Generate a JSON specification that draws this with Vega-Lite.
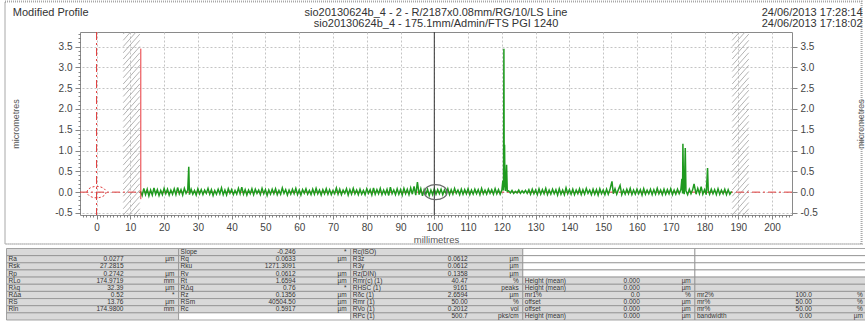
{
  "$schema": "https://vega.github.io/schema/vega-lite/v6.json",
  "width": 712,
  "height": 183,
  "autosize": {"type": "none"},
  "padding": {"left": 80, "top": 32, "right": 73, "bottom": 109},
  "background": "white",
  "config": {
    "font": "Liberation Sans",
    "view": {"stroke": "#8a8a8a", "strokeWidth": 1},
    "axis": {"labelFont": "Liberation Sans", "titleFont": "Liberation Sans"}
  },
  "datasets": {
    "one": [{}],
    "profile": [
      {"x":13.0,"y":0.02},{"x":13.5,"y":-0.08},{"x":14.0,"y":0.09},{"x":14.5,"y":-0.06},{"x":15.0,"y":0.07},{"x":15.5,"y":-0.09},{"x":16.0,"y":0.05},{"x":16.5,"y":-0.07},{"x":17.0,"y":0.10},{"x":17.5,"y":-0.05},
      {"x":18.0,"y":0.06},{"x":18.5,"y":-0.08},{"x":19.0,"y":0.04},{"x":19.5,"y":-0.06},{"x":20.0,"y":0.09},{"x":20.5,"y":-0.04},{"x":21.0,"y":0.07},{"x":21.5,"y":-0.07},{"x":22.0,"y":0.05},{"x":22.5,"y":-0.05},
      {"x":23.0,"y":0.08},{"x":23.5,"y":-0.06},{"x":24.0,"y":0.11},{"x":24.5,"y":-0.04},{"x":25.0,"y":0.06},{"x":25.5,"y":-0.07},{"x":26.0,"y":0.09},{"x":26.5,"y":-0.03},{"x":27.0,"y":0.05},{"x":27.3,"y":0.61},{"x":27.5,"y":-0.06},
      {"x":28.0,"y":0.07},{"x":28.5,"y":-0.05},{"x":29.0,"y":0.04},{"x":29.5,"y":-0.07},{"x":30.0,"y":0.08},{"x":30.5,"y":-0.04},{"x":31.0,"y":0.06},{"x":31.5,"y":-0.06},{"x":32.0,"y":0.05},{"x":32.5,"y":-0.03},
      {"x":33.0,"y":0.09},{"x":33.5,"y":-0.05},{"x":34.0,"y":0.06},{"x":34.5,"y":-0.08},{"x":35.0,"y":0.04},{"x":35.5,"y":-0.05},{"x":36.0,"y":0.07},{"x":36.5,"y":-0.04},{"x":37.0,"y":0.10},{"x":37.5,"y":-0.06},
      {"x":38.0,"y":0.05},{"x":38.5,"y":-0.07},{"x":39.0,"y":0.08},{"x":39.5,"y":-0.03},{"x":40.0,"y":0.06},{"x":40.5,"y":-0.06},{"x":41.0,"y":0.04},{"x":41.5,"y":-0.05},{"x":42.0,"y":0.09},{"x":42.5,"y":-0.04},
      {"x":43.0,"y":0.12},{"x":43.5,"y":-0.05},{"x":44.0,"y":0.06},{"x":44.5,"y":-0.07},{"x":45.0,"y":0.05},{"x":45.5,"y":-0.04},{"x":46.0,"y":0.08},{"x":46.5,"y":-0.06},{"x":47.0,"y":0.07},{"x":47.5,"y":-0.03},
      {"x":48.0,"y":0.05},{"x":48.5,"y":-0.06},{"x":49.0,"y":0.09},{"x":49.5,"y":-0.04},{"x":50.0,"y":0.06},{"x":50.5,"y":-0.08},{"x":51.0,"y":0.05},{"x":51.5,"y":-0.05},{"x":52.0,"y":0.07},{"x":52.5,"y":-0.04},
      {"x":53.0,"y":0.08},{"x":53.5,"y":-0.06},{"x":54.0,"y":0.04},{"x":54.5,"y":-0.05},{"x":55.0,"y":0.10},{"x":55.5,"y":-0.03},{"x":56.0,"y":0.06},{"x":56.5,"y":-0.07},{"x":57.0,"y":0.05},{"x":57.5,"y":-0.05},
      {"x":58.0,"y":0.07},{"x":58.5,"y":-0.04},{"x":59.0,"y":0.09},{"x":59.5,"y":-0.06},{"x":60.0,"y":0.05},{"x":60.5,"y":-0.07},{"x":61.0,"y":0.06},{"x":61.5,"y":-0.03},{"x":62.0,"y":0.08},{"x":62.5,"y":-0.05},
      {"x":63.0,"y":0.04},{"x":63.5,"y":-0.06},{"x":64.0,"y":0.07},{"x":64.5,"y":-0.05},{"x":65.0,"y":0.09},{"x":65.5,"y":-0.04},{"x":66.0,"y":0.05},{"x":66.5,"y":-0.07},{"x":67.0,"y":0.06},{"x":67.5,"y":-0.04},
      {"x":68.0,"y":0.08},{"x":68.5,"y":-0.05},{"x":69.0,"y":0.06},{"x":69.5,"y":-0.06},{"x":70.0,"y":0.04},{"x":70.5,"y":-0.04},{"x":71.0,"y":0.10},{"x":71.5,"y":-0.05},{"x":72.0,"y":0.07},{"x":72.5,"y":-0.06},
      {"x":73.0,"y":0.05},{"x":73.5,"y":-0.03},{"x":74.0,"y":0.08},{"x":74.5,"y":-0.07},{"x":75.0,"y":0.06},{"x":75.5,"y":-0.05},{"x":76.0,"y":0.09},{"x":76.5,"y":-0.04},{"x":77.0,"y":0.05},{"x":77.5,"y":-0.06},
      {"x":78.0,"y":0.07},{"x":78.5,"y":-0.05},{"x":79.0,"y":0.04},{"x":79.5,"y":-0.06},{"x":80.0,"y":0.08},{"x":80.5,"y":-0.03},{"x":81.0,"y":0.06},{"x":81.5,"y":-0.07},{"x":82.0,"y":0.10},{"x":82.5,"y":-0.05},
      {"x":83.0,"y":0.06},{"x":83.5,"y":-0.04},{"x":84.0,"y":0.09},{"x":84.5,"y":-0.06},{"x":85.0,"y":0.05},{"x":85.5,"y":-0.05},{"x":86.0,"y":0.07},{"x":86.5,"y":-0.08},{"x":87.0,"y":0.12},{"x":87.5,"y":-0.04},
      {"x":88.0,"y":0.05},{"x":88.5,"y":-0.06},{"x":89.0,"y":0.08},{"x":89.5,"y":-0.05},{"x":90.0,"y":0.06},{"x":90.5,"y":-0.07},{"x":91.0,"y":0.09},{"x":91.5,"y":-0.04},{"x":92.0,"y":0.07},{"x":92.5,"y":-0.06},
      {"x":93.0,"y":0.10},{"x":93.5,"y":-0.05},{"x":94.0,"y":0.14},{"x":94.5,"y":-0.07},{"x":95.0,"y":0.24},{"x":95.5,"y":-0.06},{"x":96.0,"y":0.08},{"x":96.5,"y":-0.09},{"x":97.0,"y":0.06},{"x":97.5,"y":-0.05},
      {"x":98.0,"y":0.07},{"x":98.5,"y":-0.08},{"x":99.0,"y":0.05},{"x":99.5,"y":-0.06},{"x":100.0,"y":0.08},{"x":100.5,"y":-0.05},{"x":101.0,"y":0.06},{"x":101.5,"y":-0.04},{"x":102.0,"y":0.07},{"x":102.5,"y":-0.06},
      {"x":103.0,"y":0.05},{"x":103.5,"y":-0.04},{"x":104.0,"y":0.08},{"x":104.5,"y":-0.06},{"x":105.0,"y":0.06},{"x":105.5,"y":-0.05},{"x":106.0,"y":0.09},{"x":106.5,"y":-0.03},{"x":107.0,"y":0.05},{"x":107.5,"y":-0.06},
      {"x":108.0,"y":0.07},{"x":108.5,"y":-0.05},{"x":109.0,"y":0.06},{"x":109.5,"y":-0.04},{"x":110.0,"y":0.08},{"x":110.5,"y":-0.06},{"x":111.0,"y":0.05},{"x":111.5,"y":-0.05},{"x":112.0,"y":0.07},{"x":112.5,"y":-0.04},
      {"x":113.0,"y":0.06},{"x":113.5,"y":-0.06},{"x":114.0,"y":0.09},{"x":114.5,"y":-0.04},{"x":115.0,"y":0.05},{"x":115.5,"y":-0.05},{"x":116.0,"y":0.07},{"x":116.5,"y":-0.03},{"x":117.0,"y":0.06},{"x":117.5,"y":-0.05},
      {"x":118.0,"y":0.08},{"x":118.5,"y":-0.04},{"x":119.0,"y":0.06},{"x":119.5,"y":-0.05},{"x":120.0,"y":0.05},{"x":120.3,"y":0.28},{"x":120.5,"y":0.04},{"x":120.6,"y":3.45},{"x":120.7,"y":0.12},{"x":120.8,"y":1.14},{"x":120.9,"y":0.22},{"x":121.1,"y":0.03},{"x":121.4,"y":0.66},{"x":121.6,"y":0.02},
      {"x":122.0,"y":0.03},{"x":122.5,"y":-0.02},{"x":123.0,"y":0.04},{"x":123.5,"y":-0.03},{"x":124.0,"y":0.02},{"x":124.5,"y":-0.02},{"x":125.0,"y":0.05},{"x":125.5,"y":-0.03},{"x":126.0,"y":0.03},{"x":126.5,"y":-0.02},
      {"x":127.0,"y":0.04},{"x":127.5,"y":-0.03},{"x":128.0,"y":0.06},{"x":128.5,"y":-0.05},{"x":129.0,"y":0.07},{"x":129.5,"y":-0.04},{"x":130.0,"y":0.05},{"x":130.5,"y":-0.06},{"x":131.0,"y":0.08},{"x":131.5,"y":-0.05},
      {"x":132.0,"y":0.06},{"x":132.5,"y":-0.04},{"x":133.0,"y":0.09},{"x":133.5,"y":-0.06},{"x":134.0,"y":0.05},{"x":134.5,"y":-0.05},{"x":135.0,"y":0.07},{"x":135.5,"y":-0.04},{"x":136.0,"y":0.06},{"x":136.5,"y":-0.07},
      {"x":137.0,"y":0.08},{"x":137.5,"y":-0.05},{"x":138.0,"y":0.05},{"x":138.5,"y":-0.06},{"x":139.0,"y":0.10},{"x":139.5,"y":-0.04},{"x":140.0,"y":0.06},{"x":140.5,"y":-0.05},{"x":141.0,"y":0.07},{"x":141.5,"y":-0.06},
      {"x":142.0,"y":0.05},{"x":142.5,"y":-0.04},{"x":143.0,"y":0.08},{"x":143.5,"y":-0.06},{"x":144.0,"y":0.06},{"x":144.5,"y":-0.05},{"x":145.0,"y":0.09},{"x":145.5,"y":-0.03},{"x":146.0,"y":0.05},{"x":146.5,"y":-0.06},
      {"x":147.0,"y":0.07},{"x":147.5,"y":-0.05},{"x":148.0,"y":0.06},{"x":148.5,"y":-0.07},{"x":149.0,"y":0.08},{"x":149.5,"y":-0.04},{"x":150.0,"y":0.05},{"x":150.5,"y":-0.06},{"x":151.0,"y":0.07},{"x":151.5,"y":-0.05},
      {"x":152.0,"y":0.06},{"x":152.6,"y":0.26},{"x":153.0,"y":-0.04},{"x":153.5,"y":0.08},{"x":154.0,"y":-0.05},{"x":154.5,"y":0.06},{"x":155.0,"y":0.16},{"x":155.5,"y":-0.06},{"x":156.0,"y":0.05},{"x":156.5,"y":-0.05},
      {"x":157.0,"y":0.07},{"x":157.5,"y":-0.04},{"x":158.0,"y":0.09},{"x":158.5,"y":-0.06},{"x":159.0,"y":0.05},{"x":159.5,"y":-0.05},{"x":160.0,"y":0.07},{"x":160.5,"y":-0.04},{"x":161.0,"y":0.06},{"x":161.5,"y":-0.07},
      {"x":162.0,"y":0.08},{"x":162.5,"y":-0.05},{"x":163.0,"y":0.05},{"x":163.5,"y":-0.04},{"x":164.0,"y":0.07},{"x":164.5,"y":-0.06},{"x":165.0,"y":0.06},{"x":165.5,"y":-0.05},{"x":166.0,"y":0.09},{"x":166.5,"y":-0.04},
      {"x":167.0,"y":0.05},{"x":167.5,"y":-0.06},{"x":168.0,"y":0.07},{"x":168.5,"y":-0.05},{"x":169.0,"y":0.06},{"x":169.5,"y":-0.04},{"x":170.0,"y":0.08},{"x":170.5,"y":-0.06},{"x":171.0,"y":0.05},{"x":171.5,"y":-0.05},
      {"x":172.0,"y":0.07},{"x":172.5,"y":-0.04},{"x":173.0,"y":0.06},{"x":173.3,"y":0.32},{"x":173.5,"y":-0.03},{"x":173.6,"y":1.16},{"x":173.8,"y":0.04},{"x":174.0,"y":-0.05},{"x":174.3,"y":1.06},{"x":174.5,"y":0.03},
      {"x":175.0,"y":-0.06},{"x":175.5,"y":0.07},{"x":176.0,"y":-0.04},{"x":176.5,"y":0.06},{"x":176.9,"y":0.2},{"x":177.5,"y":-0.05},{"x":178.0,"y":0.09},{"x":178.5,"y":-0.04},{"x":179.0,"y":0.13},{"x":179.5,"y":-0.05},
      {"x":180.0,"y":0.06},{"x":180.5,"y":-0.06},{"x":180.9,"y":0.58},{"x":181.1,"y":0.04},{"x":181.5,"y":-0.05},{"x":182.0,"y":0.07},{"x":182.5,"y":-0.04},{"x":183.0,"y":0.06},{"x":183.5,"y":-0.06},{"x":184.0,"y":0.08},
      {"x":184.5,"y":-0.05},{"x":185.0,"y":0.05},{"x":185.5,"y":-0.04},{"x":186.0,"y":0.07},{"x":186.5,"y":-0.06},{"x":187.0,"y":0.06},{"x":187.5,"y":-0.05},{"x":188.0,"y":0.02}
    ],
    "hatch": [
      {"y":-1.0,"y2":-0.55},{"y":-0.85,"y2":-0.4},{"y":-0.7,"y2":-0.25},{"y":-0.55,"y2":-0.1},{"y":-0.4,"y2":0.05},{"y":-0.25,"y2":0.2},{"y":-0.1,"y2":0.35},{"y":0.05,"y2":0.5},{"y":0.2,"y2":0.65},{"y":0.35,"y2":0.8},{"y":0.5,"y2":0.95},
      {"y":0.65,"y2":1.1},{"y":0.8,"y2":1.25},{"y":0.95,"y2":1.4},{"y":1.1,"y2":1.55},{"y":1.25,"y2":1.7},{"y":1.4,"y2":1.85},{"y":1.55,"y2":2.0},{"y":1.7,"y2":2.15},{"y":1.85,"y2":2.3},{"y":2.0,"y2":2.45},{"y":2.15,"y2":2.6},
      {"y":2.3,"y2":2.75},{"y":2.45,"y2":2.9},{"y":2.6,"y2":3.05},{"y":2.75,"y2":3.2},{"y":2.9,"y2":3.35},{"y":3.05,"y2":3.5},{"y":3.2,"y2":3.65},{"y":3.35,"y2":3.8},{"y":3.5,"y2":3.95},{"y":3.65,"y2":4.1},{"y":3.8,"y2":4.25}
    ],
    "table": [
      {"r":0,"b":"A","l":"","v":"","u":"","k":"param"},
      {"r":0,"b":"B","l":"Slope","v":"-0.246","u":"*","k":"param"},
      {"r":0,"b":"C","l":"Rc(ISO)","v":"","u":"","k":"param"},
      {"r":0,"b":"D","l":"","v":"","u":"","k":"blank"},
      {"r":0,"b":"E","l":"","v":"","u":"","k":"blank"},
      {"r":1,"b":"A","l":"Ra","v":"0.0277","u":"µm","k":"param"},
      {"r":1,"b":"B","l":"Rq","v":"0.0633","u":"µm","k":"param"},
      {"r":1,"b":"C","l":"R3z","v":"0.0612","u":"µm","k":"param"},
      {"r":1,"b":"D","l":"","v":"","u":"","k":"blank"},
      {"r":1,"b":"E","l":"","v":"","u":"","k":"blank"},
      {"r":2,"b":"A","l":"Rsk","v":"27.2815","u":"","k":"param"},
      {"r":2,"b":"B","l":"Rku","v":"1271.3091","u":"","k":"param"},
      {"r":2,"b":"C","l":"R3y","v":"0.0612","u":"µm","k":"param"},
      {"r":2,"b":"D","l":"","v":"","u":"","k":"blank"},
      {"r":2,"b":"E","l":"","v":"","u":"","k":"blank"},
      {"r":3,"b":"A","l":"Rp","v":"0.2742","u":"µm","k":"param"},
      {"r":3,"b":"B","l":"Rv","v":"0.0612","u":"µm","k":"param"},
      {"r":3,"b":"C","l":"Rz(DIN)","v":"0.1358","u":"µm","k":"param"},
      {"r":3,"b":"D","l":"","v":"","u":"","k":"blank"},
      {"r":3,"b":"E","l":"","v":"","u":"","k":"blank"},
      {"r":4,"b":"A","l":"RLo","v":"174.9719","u":"mm","k":"param"},
      {"r":4,"b":"B","l":"Rt","v":"1.6594","u":"µm","k":"param"},
      {"r":4,"b":"C","l":"Rmr(c) (1)","v":"40.47","u":"%","k":"param"},
      {"r":4,"b":"D","l":"Height (mean)","v":"0.000","u":"µm","k":"param"},
      {"r":4,"b":"E","l":"","v":"","u":"","k":"param"},
      {"r":5,"b":"A","l":"Rλq","v":"32.39","u":"µm","k":"param"},
      {"r":5,"b":"B","l":"RΔq","v":"0.76","u":"*","k":"param"},
      {"r":5,"b":"C","l":"RHSC (1)","v":"9161","u":"peaks","k":"param"},
      {"r":5,"b":"D","l":"Height (mean)","v":"0.000","u":"µm","k":"param"},
      {"r":5,"b":"E","l":"","v":"","u":"","k":"param"},
      {"r":6,"b":"A","l":"RΔa","v":"0.52","u":"*","k":"param"},
      {"r":6,"b":"B","l":"Rz","v":"0.1356","u":"µm","k":"param"},
      {"r":6,"b":"C","l":"Rδc (1)","v":"2.6594","u":"µm","k":"param"},
      {"r":6,"b":"D","l":"mr1%","v":"0.0","u":"%","k":"param"},
      {"r":6,"b":"E","l":"mr2%","v":"100.0","u":"%","k":"param"},
      {"r":7,"b":"A","l":"RS","v":"13.76","u":"µm","k":"param"},
      {"r":7,"b":"B","l":"RSm","v":"40504.50","u":"µm","k":"param"},
      {"r":7,"b":"C","l":"Rmr (1)","v":"50.00","u":"%","k":"param"},
      {"r":7,"b":"D","l":"offset","v":"0.000","u":"µm","k":"param"},
      {"r":7,"b":"E","l":"mr%","v":"50.00","u":"%","k":"param"},
      {"r":8,"b":"A","l":"Rln","v":"174.9800","u":"mm","k":"param"},
      {"r":8,"b":"B","l":"Rc","v":"0.5917","u":"µm","k":"param"},
      {"r":8,"b":"C","l":"RVo (1)","v":"0.2012","u":"vol","k":"param"},
      {"r":8,"b":"D","l":"offset","v":"0.000","u":"µm","k":"param"},
      {"r":8,"b":"E","l":"mr%","v":"50.00","u":"%","k":"param"},
      {"r":9,"b":"A","l":"","v":"","u":"","k":"param"},
      {"r":9,"b":"B","l":"","v":"","u":"","k":"blank"},
      {"r":9,"b":"C","l":"RPc (1)","v":"500.7","u":"pks/cm","k":"param"},
      {"r":9,"b":"D","l":"Height (mean)","v":"0.000","u":"µm","k":"param"},
      {"r":9,"b":"E","l":"bandwidth","v":"0.00","u":"µm","k":"param"}
    ]
  },
  "layer": [
    {
      "layer": [
        {
          "data": {"name": "one"},
          "mark": {"type": "rect", "filled": false, "stroke": "#a8a8a8", "strokeWidth": 2, "strokeDash": [1, 1], "clip": false},
          "encoding": {
            "x": {"datum": -27.1, "axis": null},
            "x2": {"datum": 226.5},
            "y": {"datum": 4.583, "axis": null},
            "y2": {"datum": -1.246}
          }
        },
        {
          "data": {"name": "hatch"},
          "mark": {"type": "rule", "color": "#a0a0a0", "strokeWidth": 0.8, "clip": true},
          "encoding": {
            "x": {"datum": 7.9, "axis": null},
            "x2": {"datum": 12.8},
            "y": {"field": "y", "type": "quantitative", "axis": null},
            "y2": {"field": "y2"}
          }
        },
        {
          "data": {"name": "hatch"},
          "mark": {"type": "rule", "color": "#a0a0a0", "strokeWidth": 0.8, "clip": true},
          "encoding": {
            "x": {"datum": 188.2, "axis": null},
            "x2": {"datum": 193.1},
            "y": {"field": "y", "type": "quantitative", "axis": null},
            "y2": {"field": "y2"}
          }
        },
        {
          "data": {"name": "one"},
          "mark": {"type": "rule", "color": "#e03a3a", "strokeWidth": 1, "strokeDash": [8, 3, 2, 3]},
          "encoding": {
            "y": {
              "datum": 0,
              "axis": {
                "orient": "right",
                "tickCount": 9,
                "labelExpr": "replace(format(datum.value, '.1f'), '\u2212', '-')",
                "labelOverlap": false,
                "labelFlush": false,
                "labelBound": false,
                "tickSize": 5,
                "tickColor": "#666666",
                "tickWidth": 0.8,
                "domain": false,
                "grid": true,
                "gridColor": "#c4c4c4",
                "gridDash": [2, 2],
                "labelFontSize": 10,
                "labelColor": "#444444",
                "labelPadding": 3,
                "title": "micrometres",
                "titleFontSize": 9,
                "titleFontWeight": "normal",
                "titleColor": "#555555",
                "titleAngle": 270,
                "titleX": 68,
                "titleY": 91.5,
                "titleBaseline": "middle",
                "titleAlign": "center"
              }
            }
          }
        },
        {
          "data": {"name": "one"},
          "mark": {"type": "rule", "color": "#e03a3a", "strokeWidth": 1, "strokeDash": [8, 3, 2, 3]},
          "encoding": {
            "x": {
              "datum": 0,
              "axis": {
                "orient": "top",
                "tickCount": 21,
                "grid": true,
                "gridColor": "#c4c4c4",
                "gridDash": [2, 2],
                "labels": false,
                "ticks": false,
                "domain": false,
                "title": null,
                "minExtent": 0,
                "maxExtent": 0
              }
            }
          }
        },
        {
          "data": {"name": "profile"},
          "mark": {"type": "line", "color": "#1f9a1f", "strokeWidth": 1.5},
          "encoding": {
            "x": {
              "field": "x",
              "type": "quantitative",
              "scale": {"domain": [-4.9, 205.9], "nice": false, "zero": false},
              "axis": {
                "orient": "bottom",
                "tickCount": 211,
                "labelExpr": "datum.value % 10 === 0 ? format(datum.value, 'd') : ''",
                "labelOverlap": false,
                "labelFlush": false,
                "labelBound": false,
                "tickSize": {"condition": {"test": "datum.value % 10 === 0", "value": 4}, "value": 2},
                "tickColor": "#666666",
                "tickWidth": 0.8,
                "domain": false,
                "grid": false,
                "labelFontSize": 10,
                "labelColor": "#444444",
                "labelPadding": 3,
                "title": "millimetres",
                "titleFontSize": 9.5,
                "titleFontWeight": "normal",
                "titleColor": "#555555",
                "titlePadding": 2
              }
            },
            "y": {
              "field": "y",
              "type": "quantitative",
              "scale": {"domain": [-0.55, 3.85], "nice": false, "zero": false},
              "axis": {
                "orient": "left",
                "tickCount": 44,
                "labelExpr": "abs(datum.value*2 - round(datum.value*2)) < 0.001 ? replace(format(datum.value, '.1f'), '\u2212', '-') : ''",
                "labelOverlap": false,
                "labelFlush": false,
                "labelBound": false,
                "tickSize": {"condition": {"test": "abs(datum.value*2 - round(datum.value*2)) < 0.001", "value": 5}, "value": 2},
                "tickColor": "#666666",
                "tickWidth": 0.8,
                "domain": false,
                "grid": false,
                "labelFontSize": 10,
                "labelColor": "#444444",
                "labelPadding": 3,
                "title": "micrometres",
                "titleFontSize": 9,
                "titleFontWeight": "normal",
                "titleColor": "#555555",
                "titleAngle": 270,
                "titleX": -65,
                "titleY": 91.5,
                "titleBaseline": "middle",
                "titleAlign": "center"
              }
            }
          }
        },
        {
          "data": {"name": "one"},
          "mark": {"type": "rule", "color": "#e8383d", "strokeWidth": 1},
          "encoding": {
            "x": {"datum": 13.1, "axis": null},
            "y": {"datum": -0.17, "axis": null},
            "y2": {"datum": 3.45}
          }
        },
        {
          "data": {"name": "one"},
          "mark": {"type": "rule", "color": "#333333", "strokeWidth": 1},
          "encoding": {"x": {"datum": 100, "axis": null}}
        },
        {
          "data": {"name": "one"},
          "mark": {"type": "point", "shape": "M-1,0A1,0.66 0 1,1 1,0A1,0.66 0 1,1 -1,0Z", "size": 520, "filled": false, "stroke": "#6a6a6a", "strokeWidth": 1.2, "opacity": 1},
          "encoding": {"x": {"datum": 100.4, "axis": null}, "y": {"datum": 0.0, "axis": null}}
        },
        {
          "data": {"name": "one"},
          "mark": {"type": "point", "shape": "M-1,0A1,0.6 0 1,1 1,0A1,0.6 0 1,1 -1,0Z", "size": 361, "filled": false, "stroke": "#e03a3a", "strokeWidth": 1, "strokeDash": [2, 2], "opacity": 1},
          "encoding": {"x": {"datum": 0, "axis": null}, "y": {"datum": 0.0, "axis": null}}
        },
        {
          "data": {"name": "one"},
          "mark": {"type": "text", "align": "left", "baseline": "middle", "fontSize": 11, "color": "#333333", "clip": false},
          "encoding": {
            "x": {"datum": -24.8, "axis": null},
            "y": {"datum": 4.314, "axis": null},
            "text": {"value": "Modified Profile"}
          }
        },
        {
          "data": {"name": "one"},
          "mark": {"type": "text", "align": "center", "baseline": "top", "fontSize": 11, "lineHeight": 11, "color": "#333333", "clip": false},
          "encoding": {
            "x": {"datum": 100.5, "axis": null},
            "y": {"datum": 4.446, "axis": null},
            "text": {"value": ["sio20130624b_4 - 2 - R/2187x0.08mm/RG/10/LS Line", "sio20130624b_4 - 175.1mm/Admin/FTS PGI 1240"]}
          }
        },
        {
          "data": {"name": "one"},
          "mark": {"type": "text", "align": "right", "baseline": "top", "fontSize": 11, "lineHeight": 11, "color": "#333333", "clip": false},
          "encoding": {
            "x": {"datum": 226.8, "axis": null},
            "y": {"datum": 4.446, "axis": null},
            "text": {"value": ["24/06/2013 17:28:14", "24/06/2013 17:18:02"]}
          }
        }
      ],
      "resolve": {"axis": {"x": "independent", "y": "independent"}}
    },
    {
      "data": {"name": "table"},
      "encoding": {
        "y": {"field": "r", "type": "ordinal", "scale": {"domain": [0,1,2,3,4,5,6,7,8,9], "range": [216.5, 288], "paddingInner": 0, "paddingOuter": 0}, "axis": null}
      },
      "layer": [
        {
          "mark": {"type": "rect", "stroke": "#8f8f8f", "strokeWidth": 0.8},
          "encoding": {
            "x": {"field": "b", "type": "nominal", "scale": {"domain": ["A","B","C","D","E"], "range": [-73.5, 787], "paddingInner": 0, "paddingOuter": 0}, "axis": null},
            "color": {"field": "k", "type": "nominal", "scale": {"domain": ["param", "blank"], "range": ["#d9d9d9", "#ffffff"]}, "legend": null}
          }
        },
        {
          "mark": {"type": "text", "align": "left", "baseline": "middle", "dx": 2, "fontSize": 6.5, "color": "#333333"},
          "encoding": {
            "x": {"field": "b", "type": "nominal", "bandPosition": 0, "axis": null},
            "text": {"field": "l"}
          }
        },
        {
          "mark": {"type": "text", "align": "right", "baseline": "middle", "dx": 117, "fontSize": 6.5, "color": "#333333"},
          "encoding": {
            "x": {"field": "b", "type": "nominal", "bandPosition": 0, "axis": null},
            "text": {"field": "v"}
          }
        },
        {
          "mark": {"type": "text", "align": "right", "baseline": "middle", "dx": 168, "fontSize": 6.5, "color": "#333333"},
          "encoding": {
            "x": {"field": "b", "type": "nominal", "bandPosition": 0, "axis": null},
            "text": {"field": "u"}
          }
        }
      ]
    }
  ],
  "resolve": {"scale": {"x": "independent", "y": "independent", "color": "independent"}}
}
